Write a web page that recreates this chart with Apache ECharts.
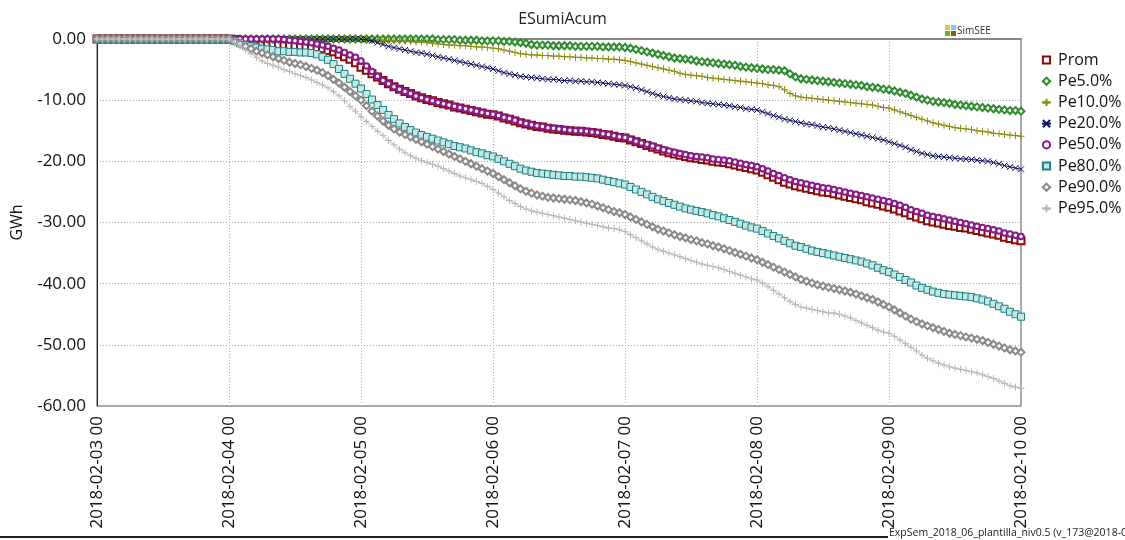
<!DOCTYPE html>
<html>
<head>
<meta charset="utf-8">
<script src="https://cdn.jsdelivr.net/npm/echarts@6/dist/echarts.min.js"></script>
<style>
  html, body { margin: 0; padding: 0; background: #fff; }
  #chart { width: 1125px; height: 540px; }
</style>
</head>
<body>
<div id="chart"></div>
<script>
// Hourly cumulative energy (GWh), hour 0 = 2018-02-03 00, hour 168 = 2018-02-10 00.
const dateLabels = ['2018-02-03 00', '2018-02-04 00', '2018-02-05 00', '2018-02-06 00',
                    '2018-02-07 00', '2018-02-08 00', '2018-02-09 00', '2018-02-10 00'];
const yTicks = [0, -10, -20, -30, -40, -50, -60];
const seriesNames = ['Prom', 'Pe5.0%', 'Pe10.0%', 'Pe20.0%', 'Pe50.0%', 'Pe80.0%', 'Pe90.0%', 'Pe95.0%'];

const prom = [
  0,0,0,0,0,0,0,0,0,0,0,0,0,0,0,0,0,0,0,0,0,0,0,0,
  0,-0.1,-0.2,-0.4,-0.5,-0.6,-0.7,-0.8,-0.9,-1.0,-1.1,-1.1,-1.2,-1.2,-1.3,-1.3,-1.4,-1.6,-1.9,-2.1,-2.5,-2.9,-3.3,-3.9,
  -4.6,-5.1,-5.7,-6.2,-6.8,-7.3,-7.8,-8.2,-8.6,-8.9,-9.3,-9.6,-9.9,-10.1,-10.4,-10.6,-10.8,-11.1,-11.3,-11.5,-11.7,-11.9,-12.1,-12.3,
  -12.4,-12.6,-12.9,-13.1,-13.4,-13.7,-13.9,-14.1,-14.3,-14.4,-14.6,-14.7,-14.8,-14.9,-15.0,-15.1,-15.1,-15.2,-15.3,-15.4,-15.6,-15.7,-15.9,-16.1,
  -16.2,-16.5,-16.8,-17.1,-17.4,-17.7,-18.0,-18.3,-18.6,-18.8,-19.0,-19.2,-19.4,-19.5,-19.7,-19.8,-20.0,-20.1,-20.2,-20.4,-20.6,-20.8,-21.0,-21.2,
  -21.4,-21.8,-22.2,-22.6,-23.0,-23.4,-23.7,-24.0,-24.2,-24.4,-24.6,-24.8,-25.0,-25.1,-25.3,-25.5,-25.7,-25.9,-26.1,-26.3,-26.6,-26.8,-27.0,-27.3,
  -27.5,-27.8,-28.1,-28.4,-28.8,-29.1,-29.4,-29.7,-29.9,-30.1,-30.3,-30.5,-30.6,-30.8,-30.9,-31.1,-31.3,-31.5,-31.7,-31.9,-32.1,-32.4,-32.6,-32.8,
  -33.0
];
const pe5 = [
  0,0,0,0,0,0,0,0,0,0,0,0,0,0,0,0,0,0,0,0,0,0,0,0,
  0,0,0,0,0,0,0,0,0,0,0,0,0,0,0,0,0,0,0,0,0,0,0,0,
  0,0,0,0,0,0,0,0,0,0,0,0,0,0,-0.1,-0.1,-0.1,-0.1,-0.2,-0.2,-0.2,-0.2,-0.3,-0.3,
  -0.3,-0.3,-0.4,-0.4,-0.5,-0.6,-0.7,-0.9,-1.0,-1.0,-1.0,-1.1,-1.1,-1.1,-1.1,-1.2,-1.2,-1.2,-1.2,-1.2,-1.3,-1.3,-1.3,-1.3,
  -1.4,-1.5,-1.7,-1.9,-2.1,-2.3,-2.5,-2.7,-2.9,-3.1,-3.2,-3.3,-3.4,-3.6,-3.7,-3.8,-3.9,-4.0,-4.1,-4.2,-4.3,-4.5,-4.6,-4.7,
  -4.8,-4.9,-5.0,-5.0,-5.1,-5.2,-5.7,-6.2,-6.5,-6.6,-6.7,-6.8,-6.9,-7.0,-7.1,-7.2,-7.3,-7.4,-7.5,-7.6,-7.8,-7.9,-8.0,-8.2,
  -8.3,-8.5,-8.7,-8.9,-9.2,-9.5,-9.8,-10.0,-10.2,-10.3,-10.4,-10.5,-10.7,-10.8,-10.9,-11.0,-11.1,-11.2,-11.3,-11.4,-11.5,-11.6,-11.7,-11.7,
  -11.8
];
const pe10 = [
  0,0,0,0,0,0,0,0,0,0,0,0,0,0,0,0,0,0,0,0,0,0,0,0,
  0,0,0,0,0,0,0,0,0,0,0,0,0,0,0,0,0,0,0,0,0,0,0,0,
  0,0,-0.1,-0.1,-0.2,-0.2,-0.3,-0.3,-0.4,-0.4,-0.5,-0.5,-0.6,-0.7,-0.8,-0.9,-1.0,-1.0,-1.1,-1.1,-1.2,-1.3,-1.3,-1.4,
  -1.5,-1.6,-1.8,-2.0,-2.2,-2.4,-2.5,-2.6,-2.6,-2.7,-2.7,-2.8,-2.8,-2.9,-2.9,-3.0,-3.0,-3.1,-3.1,-3.2,-3.2,-3.3,-3.3,-3.4,
  -3.5,-3.7,-3.9,-4.1,-4.3,-4.5,-4.7,-4.9,-5.1,-5.3,-5.6,-5.8,-5.9,-6.0,-6.1,-6.3,-6.4,-6.5,-6.6,-6.7,-6.8,-6.9,-7.0,-7.1,
  -7.2,-7.3,-7.5,-7.6,-7.8,-8.3,-8.9,-9.3,-9.5,-9.6,-9.7,-9.8,-9.9,-10.0,-10.1,-10.2,-10.3,-10.4,-10.5,-10.6,-10.7,-10.8,-11.0,-11.2,
  -11.3,-11.6,-11.9,-12.2,-12.5,-12.8,-13.1,-13.4,-13.7,-13.9,-14.1,-14.3,-14.5,-14.6,-14.7,-14.8,-15.0,-15.1,-15.2,-15.4,-15.5,-15.6,-15.7,-15.8,
  -15.9
];
const pe20 = [
  0,0,0,0,0,0,0,0,0,0,0,0,0,0,0,0,0,0,0,0,0,0,0,0,
  0,0,0,0,0,0,0,0,0,0,0,0,0,0,0,0,0,0,0,0,0,0,0,0,
  0,-0.1,-0.3,-0.6,-0.9,-1.2,-1.4,-1.6,-1.8,-2.0,-2.2,-2.3,-2.5,-2.7,-2.9,-3.1,-3.3,-3.5,-3.7,-3.9,-4.1,-4.3,-4.5,-4.7,
  -4.9,-5.2,-5.5,-5.7,-5.9,-6.1,-6.2,-6.3,-6.4,-6.5,-6.6,-6.6,-6.7,-6.8,-6.8,-6.9,-6.9,-7.0,-7.0,-7.1,-7.2,-7.3,-7.4,-7.5,
  -7.6,-7.8,-8.0,-8.3,-8.6,-8.9,-9.2,-9.4,-9.6,-9.8,-9.9,-10.0,-10.1,-10.2,-10.4,-10.5,-10.6,-10.7,-10.8,-10.9,-11.1,-11.2,-11.4,-11.5,
  -11.6,-11.9,-12.2,-12.5,-12.8,-13.1,-13.3,-13.5,-13.7,-13.9,-14.0,-14.2,-14.4,-14.5,-14.7,-14.9,-15.1,-15.3,-15.5,-15.7,-15.9,-16.1,-16.3,-16.5,
  -16.8,-17.1,-17.4,-17.7,-18.1,-18.4,-18.7,-18.9,-19.1,-19.2,-19.3,-19.4,-19.5,-19.6,-19.6,-19.7,-19.8,-19.9,-20.0,-20.2,-20.4,-20.7,-20.9,-21.1,
  -21.3
];
const pe50 = [
  0,0,0,0,0,0,0,0,0,0,0,0,0,0,0,0,0,0,0,0,0,0,0,0,
  0,0,0,0,0,0,0,0,0,0,-0.1,-0.2,-0.3,-0.4,-0.5,-0.6,-0.8,-1.0,-1.2,-1.5,-1.8,-2.2,-2.6,-3.0,
  -3.6,-4.4,-5.3,-6.1,-6.8,-7.3,-7.8,-8.2,-8.6,-8.9,-9.3,-9.6,-9.9,-10.1,-10.4,-10.6,-10.8,-11.0,-11.2,-11.4,-11.6,-11.8,-12.0,-12.2,
  -12.3,-12.5,-12.8,-13.0,-13.3,-13.6,-13.8,-14.0,-14.2,-14.3,-14.5,-14.6,-14.7,-14.8,-14.9,-15.0,-15.0,-15.1,-15.2,-15.3,-15.5,-15.6,-15.8,-16.0,
  -16.1,-16.4,-16.7,-17.0,-17.2,-17.5,-17.8,-18.1,-18.3,-18.5,-18.7,-18.9,-19.1,-19.2,-19.3,-19.4,-19.6,-19.7,-19.8,-19.9,-20.1,-20.3,-20.5,-20.7,
  -20.9,-21.2,-21.6,-22.0,-22.3,-22.7,-23.0,-23.3,-23.5,-23.7,-23.9,-24.1,-24.3,-24.4,-24.6,-24.8,-25.0,-25.2,-25.4,-25.6,-25.8,-26.0,-26.2,-26.4,
  -26.6,-26.9,-27.2,-27.5,-27.9,-28.2,-28.5,-28.8,-29.0,-29.2,-29.4,-29.6,-29.8,-30.0,-30.2,-30.4,-30.6,-30.8,-31.0,-31.2,-31.4,-31.7,-31.9,-32.1,
  -32.3
];
const pe80 = [
  0,0,0,0,0,0,0,0,0,0,0,0,0,0,0,0,0,0,0,0,0,0,0,0,
  0,-0.3,-0.7,-1.0,-1.2,-1.4,-1.6,-1.7,-1.8,-2.0,-2.0,-2.1,-2.1,-2.2,-2.2,-2.3,-2.5,-2.9,-3.4,-4.1,-4.9,-5.7,-6.5,-7.3,
  -8.1,-9.0,-9.9,-10.8,-11.6,-12.4,-13.1,-13.8,-14.4,-14.9,-15.3,-15.7,-16.0,-16.3,-16.6,-16.9,-17.2,-17.5,-17.7,-17.9,-18.2,-18.5,-18.7,-19.0,
  -19.2,-19.6,-20.0,-20.4,-20.8,-21.2,-21.5,-21.7,-21.9,-22.0,-22.1,-22.2,-22.3,-22.4,-22.4,-22.5,-22.5,-22.6,-22.7,-22.8,-23.0,-23.2,-23.4,-23.6,
  -23.8,-24.2,-24.6,-25.0,-25.4,-25.8,-26.2,-26.5,-26.8,-27.1,-27.4,-27.7,-27.9,-28.1,-28.3,-28.5,-28.8,-29.0,-29.3,-29.6,-29.9,-30.2,-30.5,-30.8,
  -31.0,-31.4,-31.8,-32.2,-32.6,-33.0,-33.4,-33.8,-34.0,-34.3,-34.6,-34.8,-35.0,-35.2,-35.4,-35.6,-35.8,-36.0,-36.2,-36.4,-36.7,-37.0,-37.4,-37.8,
  -38.1,-38.5,-38.9,-39.4,-39.8,-40.3,-40.7,-41.0,-41.3,-41.5,-41.7,-41.8,-41.9,-42.0,-42.1,-42.2,-42.4,-42.6,-42.9,-43.3,-43.7,-44.1,-44.6,-45.0,
  -45.4
];
const pe90 = [
  0,0,0,0,0,0,0,0,0,0,0,0,0,0,0,0,0,0,0,0,0,0,0,0,
  0,-0.4,-0.8,-1.2,-1.6,-2.0,-2.3,-2.6,-2.9,-3.2,-3.5,-3.8,-4.0,-4.2,-4.5,-4.8,-5.1,-5.5,-6.0,-6.6,-7.2,-7.9,-8.6,-9.3,
  -10.0,-10.9,-11.8,-12.6,-13.4,-14.1,-14.7,-15.2,-15.6,-16.0,-16.4,-16.8,-17.2,-17.6,-18.0,-18.4,-18.8,-19.2,-19.6,-20.0,-20.4,-20.8,-21.2,-21.6,
  -22.0,-22.5,-23.0,-23.5,-24.0,-24.5,-24.9,-25.2,-25.5,-25.7,-25.9,-26.0,-26.1,-26.2,-26.3,-26.4,-26.6,-26.8,-27.0,-27.3,-27.6,-27.9,-28.2,-28.4,
  -28.7,-29.1,-29.5,-29.9,-30.3,-30.7,-31.1,-31.4,-31.7,-32.0,-32.3,-32.5,-32.8,-33.0,-33.3,-33.5,-33.8,-34.0,-34.3,-34.6,-34.9,-35.2,-35.5,-35.8,
  -36.1,-36.5,-36.9,-37.3,-37.7,-38.1,-38.5,-38.9,-39.3,-39.6,-39.9,-40.2,-40.4,-40.6,-40.8,-41.0,-41.2,-41.4,-41.7,-42.0,-42.3,-42.6,-43.0,-43.4,
  -43.8,-44.3,-44.8,-45.3,-45.8,-46.2,-46.6,-46.9,-47.2,-47.5,-47.8,-48.1,-48.3,-48.5,-48.7,-48.9,-49.1,-49.3,-49.6,-49.9,-50.2,-50.5,-50.8,-51.0,
  -51.2
];
const pe95 = [
  0,0,0,0,0,0,0,0,0,0,0,0,0,0,0,0,0,0,0,0,0,0,0,0,
  0,-0.6,-1.2,-1.8,-2.4,-3.0,-3.6,-4.0,-4.3,-4.6,-5.0,-5.3,-5.7,-6.0,-6.3,-6.7,-7.1,-7.5,-8.0,-8.6,-9.3,-10.1,-11.0,-11.8,
  -12.7,-13.5,-14.3,-15.1,-15.8,-16.6,-17.3,-18.0,-18.6,-19.1,-19.5,-19.9,-20.2,-20.5,-20.8,-21.2,-21.6,-22.0,-22.4,-22.7,-23.0,-23.3,-23.6,-24.1,
  -24.6,-25.2,-25.8,-26.4,-26.9,-27.4,-27.8,-28.1,-28.3,-28.5,-28.7,-28.9,-29.1,-29.3,-29.5,-29.7,-29.9,-30.1,-30.3,-30.5,-30.7,-30.9,-31.0,-31.2,
  -31.5,-32.0,-32.5,-33.0,-33.5,-34.0,-34.4,-34.7,-35.0,-35.3,-35.6,-35.9,-36.2,-36.5,-36.8,-37.0,-37.2,-37.4,-37.7,-38.0,-38.3,-38.6,-38.9,-39.2,
  -39.4,-39.9,-40.5,-41.1,-41.7,-42.3,-42.9,-43.4,-43.8,-44.0,-44.2,-44.4,-44.6,-44.8,-44.8,-45.0,-45.3,-45.6,-46.0,-46.4,-46.8,-47.2,-47.6,-47.9,
  -48.1,-48.6,-49.2,-49.8,-50.4,-51.0,-51.7,-52.2,-52.6,-53.0,-53.3,-53.6,-53.8,-54.0,-54.2,-54.4,-54.6,-54.9,-55.2,-55.5,-55.9,-56.3,-56.7,-56.9,
  -57.1
];

const seriesValues = [prom, pe5, pe10, pe20, pe50, pe80, pe90, pe95];

// Marker styles per series
const PLUS = 'path://M0,5L10,5M5,0L5,10';
const CROSS = 'path://M0,0L10,10M10,0L0,10';
const styles = [
  { color: '#8b0a0a', symbol: 'emptyRect', size: 7 },
  { color: '#2e8b2e', symbol: 'emptyDiamond', size: 7 },
  { color: '#8c8c10', symbol: PLUS, size: 7 },
  { color: '#101060', symbol: CROSS, size: 6 },
  { color: '#8a1a8a', symbol: 'emptyCircle', size: 5.5 },
  { color: '#1a8080', symbol: 'rect', size: 7, fill: '#c4e8e8' },
  { color: '#8a8a8a', symbol: 'emptyDiamond', size: 7 },
  { color: '#b8b8b8', symbol: PLUS, size: 7 }
];

const FONT = 'Open Sans';

const series = seriesNames.map((name, k) => {
  const st = styles[k];
  return {
    name,
    type: 'line',
    data: seriesValues[k].map((v, h) => [h, v]),
    symbol: st.symbol,
    symbolSize: st.size,
    showAllSymbol: true,
    lineStyle: { color: st.color, width: 1 },
    itemStyle: {
      color: st.fill ? st.fill : st.color,
      borderColor: st.color,
      borderWidth: 1
    },
    z: 2 + k
  };
});

const chart = echarts.init(document.getElementById('chart'), null, { renderer: 'canvas' });
chart.setOption({
  animation: false,
  backgroundColor: '#ffffff',
  textStyle: { fontFamily: FONT },
  title: {
    text: 'ESumiAcum',
    left: 'center',
    top: 6,
    textStyle: { fontFamily: FONT, fontSize: 16, fontWeight: 'normal', color: '#222' }
  },
  legend: {
    orient: 'vertical',
    left: 1036,
    top: 47,
    itemWidth: 9,
    itemHeight: 9,
    itemGap: 5.2,
    textStyle: { fontFamily: FONT, fontSize: 16, color: '#111', padding: [0, 0, 0, 2] },
    data: seriesNames
  },
  grid: {
    left: 97, right: 104, top: 39, bottom: 134,
    show: true, borderColor: '#555', borderWidth: 1
  },
  xAxis: {
    type: 'value',
    min: 0, max: 168, interval: 24,
    axisLine: { show: true, lineStyle: { color: '#888', width: 2 } },
    axisTick: { show: false },
    splitLine: { show: true, lineStyle: { color: '#aaa', type: [1, 2], width: 1 } },
    axisLabel: {
      rotate: 90,
      margin: 10,
      fontFamily: FONT,
      fontSize: 17,
      color: '#111',
      formatter: v => dateLabels[Math.round(v / 24)]
    }
  },
  yAxis: {
    type: 'value',
    min: yTicks[yTicks.length - 1], max: yTicks[0], interval: 10,
    name: 'GWh',
    nameLocation: 'middle',
    nameGap: 72,
    nameRotate: 90,
    nameTextStyle: { fontFamily: FONT, fontSize: 16, color: '#111' },
    axisLine: { show: true, lineStyle: { color: '#222', width: 1 } },
    axisTick: { show: false },
    splitLine: { show: true, lineStyle: { color: '#aaa', type: [1, 2], width: 1 } },
    axisLabel: {
      margin: 11,
      fontFamily: FONT,
      fontSize: 17,
      color: '#111',
      formatter: v => v.toFixed(2)
    }
  },
  graphic: [
    // SimSEE badge
    { type: 'rect', left: 945, top: 25, shape: { width: 5, height: 5 }, style: { fill: '#f2c230' } },
    { type: 'rect', left: 951, top: 25, shape: { width: 5, height: 5 }, style: { fill: '#86c4f0' } },
    { type: 'rect', left: 945, top: 31, shape: { width: 5, height: 5 }, style: { fill: '#6ab22a' } },
    { type: 'rect', left: 951, top: 31, shape: { width: 5, height: 5 }, style: { fill: '#8a5a12' } },
    { type: 'text', left: 957, top: 26, style: { text: 'SimSEE', fontFamily: FONT, fontSize: 10, fill: '#333' } },
    // footer rule and run tag
    { type: 'line', shape: { x1: 0, y1: 537, x2: 888, y2: 537 }, style: { stroke: '#222', lineWidth: 2 } },
    { type: 'text', left: 889, top: 528, style: { text: 'ExpSem_2018_06_plantilla_niv0.5 (v_173@2018-02-0', fontFamily: FONT, fontSize: 10.5, fill: '#222' } }
  ],
  series
});
</script>
</body>
</html>
